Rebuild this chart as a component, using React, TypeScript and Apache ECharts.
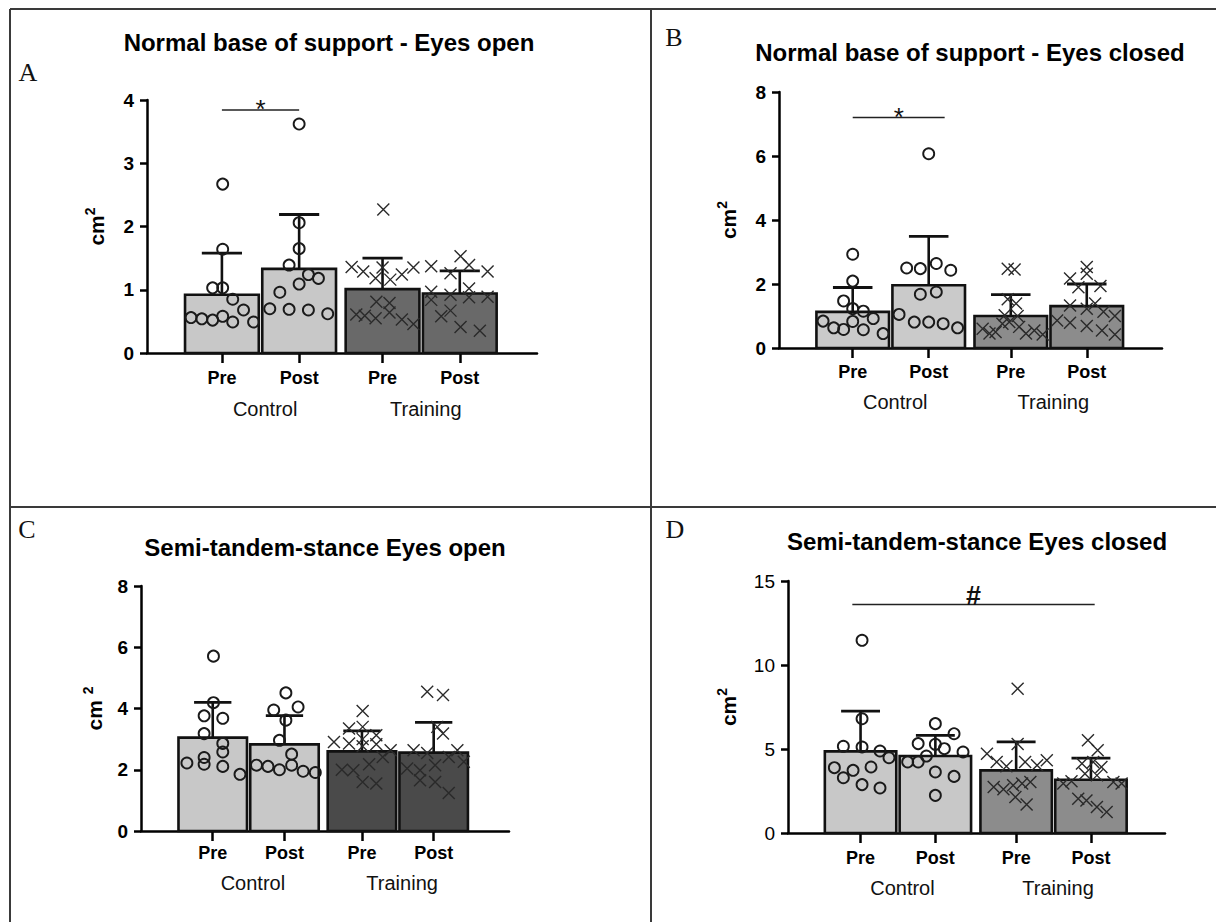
import React, { useEffect, useRef } from "react";
import * as echarts from "echarts";

// ---------- shared categories ----------
const timeLabels = ["Pre", "Post", "Pre", "Post"];
const groupLabels = ["Control", "Training"];
const catPos = [0, 1, 2.08, 3.08];
const groupPos = [0.56, 2.64];

// ---------- Panel A : Normal base of support - Eyes open ----------
const titleA = "Normal base of support - Eyes open";
const meanA = [0.92, 1.33, 1.01, 0.94];
const sdA = [0.66, 0.86, 0.49, 0.36];
const ctrlPreA = [[0.01, 2.67], [0.01, 1.64], [-0.12, 1.03], [0.01, 1.03], [0.14, 0.85], [0.28, 0.68], [-0.4, 0.56], [-0.26, 0.54], [-0.12, 0.52], [0.01, 0.58], [0.14, 0.49], [0.41, 0.49]];
const ctrlPostA = [[0, 3.62], [0, 2.06], [0, 1.65], [-0.13, 1.39], [0.12, 1.24], [0.25, 1.18], [0, 1.09], [-0.25, 0.96], [-0.38, 0.7], [-0.13, 0.69], [0.12, 0.68], [0.37, 0.62]];
const trPreA = [[0.01, 2.27], [-0.4, 1.36], [-0.25, 1.29], [-0.09, 1.18], [0, 1.35], [0.1, 1.16], [0.25, 1.24], [0.4, 1.35], [-0.08, 0.81], [0.09, 0.79], [0.09, 0.64], [-0.34, 0.61], [-0.23, 0.59], [-0.09, 0.55], [0.25, 0.53], [0.4, 0.46]];
const trPostA = [[-0.37, 1.37], [-0.12, 1.26], [0.01, 1.53], [0.12, 1.39], [0.36, 1.29], [-0.37, 0.97], [-0.12, 0.92], [0.12, 1.02], [-0.37, 0.84], [0.12, 0.88], [0.36, 0.89], [-0.24, 0.58], [-0.12, 0.67], [0.01, 0.41], [0.26, 0.35]];
const sigA = [[0, 1, 3.84]];

// ---------- Panel B : Normal base of support - Eyes closed ----------
const titleB = "Normal base of support - Eyes closed";
const meanB = [1.13, 1.96, 1.0, 1.31];
const sdB = [0.76, 1.53, 0.67, 0.69];
const ctrlPreB = [[0, 2.93], [0, 2.09], [-0.12, 1.47], [0, 1.23], [0.14, 1.15], [-0.39, 0.84], [0, 0.83], [0.27, 0.92], [-0.25, 0.63], [-0.12, 0.58], [0.14, 0.57], [0.4, 0.45]];
const ctrlPostB = [[0, 6.07], [-0.29, 2.5], [-0.11, 2.48], [0.1, 2.64], [0.29, 2.43], [-0.11, 1.68], [0.1, 1.75], [-0.39, 1.05], [-0.19, 0.81], [0, 0.81], [0.19, 0.76], [0.38, 0.63]];
const trPreB = [[-0.04, 2.48], [0.05, 2.45], [-0.04, 1.52], [0.07, 1.39], [-0.08, 1.02], [0.09, 1.0], [-0.02, 0.81], [-0.11, 0.76], [-0.37, 0.6], [-0.28, 0.45], [-0.2, 0.5], [0.11, 0.66], [0.2, 0.45], [0.31, 0.55], [0.42, 0.42]];
const trPostB = [[0, 2.53], [-0.22, 2.17], [0, 2.32], [-0.11, 1.9], [0.18, 1.94], [-0.22, 1.33], [0.11, 1.39], [0, 1.23], [0.22, 1.13], [0.37, 1.0], [-0.39, 0.86], [-0.22, 0.79], [0, 0.69], [0.2, 0.55], [0.37, 0.42]];
const sigB = [[0, 1.21, 7.2]];

// ---------- Panel C : Semi-tandem-stance Eyes open ----------
const titleC = "Semi-tandem-stance Eyes open";
const meanC = [3.05, 2.83, 2.6, 2.56];
const sdC = [1.15, 0.94, 0.67, 0.99];
const ctrlPreC = [[0.01, 5.71], [0.01, 4.19], [-0.12, 3.76], [0.14, 3.68], [-0.12, 3.18], [0.14, 2.86], [0.14, 2.58], [-0.12, 2.4], [-0.36, 2.22], [-0.12, 2.18], [0.14, 2.11], [0.38, 1.85]];
const ctrlPostC = [[0.02, 4.51], [-0.15, 3.95], [0.19, 4.05], [0.02, 3.62], [-0.07, 2.96], [0.1, 2.51], [-0.39, 2.15], [-0.23, 2.11], [-0.07, 2.0], [0.1, 2.15], [0.26, 1.95], [0.43, 1.91]];
const trPreC = [[0.01, 3.92], [-0.39, 2.91], [-0.18, 2.86], [-0.18, 3.35], [0.01, 3.4], [0.01, 3.0], [0.2, 3.13], [0.2, 2.83], [0.4, 2.64], [0.29, 2.42], [0.01, 2.77], [-0.28, 2.0], [-0.12, 1.98], [0.1, 2.18], [0.01, 1.6], [0.2, 1.55]];
const trPostC = [[-0.09, 4.55], [0.13, 4.44], [0.05, 3.4], [0.13, 3.18], [-0.28, 2.64], [-0.09, 2.55], [0.33, 2.64], [0.21, 2.42], [0.42, 2.26], [-0.37, 2.04], [-0.19, 1.98], [0.02, 2.15], [-0.19, 1.66], [0.02, 1.6], [0.21, 1.24]];
const sigC: number[][] = [];

// ---------- Panel D : Semi-tandem-stance Eyes closed ----------
const titleD = "Semi-tandem-stance Eyes closed";
const meanD = [4.86, 4.58, 3.73, 3.17];
const sdD = [2.4, 1.23, 1.69, 1.29];
const ctrlPreD = [[0.02, 11.47], [0.02, 6.8], [-0.23, 5.16], [0.02, 5.12], [0.26, 4.88], [0.38, 4.48], [-0.35, 3.89], [-0.1, 3.73], [0.14, 3.93], [-0.23, 3.29], [0.02, 2.88], [0.26, 2.68]];
const ctrlPostD = [[0, 6.51], [0.25, 5.91], [-0.23, 5.32], [0, 5.28], [0.12, 5.02], [-0.12, 4.58], [0.37, 4.82], [-0.37, 4.23], [-0.23, 4.23], [0, 3.63], [0.25, 3.37], [0, 2.24]];
const trPreD = [[0.02, 8.59], [-0.39, 4.72], [-0.26, 4.23], [-0.13, 3.97], [0.02, 5.3], [0.12, 4.23], [0.28, 4.03], [0.41, 4.33], [-0.3, 2.74], [-0.17, 2.6], [-0.04, 2.84], [0.19, 3.04], [0.08, 2.94], [-0.01, 2.14], [0.14, 1.69]];
const trPostD = [[-0.04, 5.52], [0.09, 4.92], [-0.12, 4.13], [0.03, 4.23], [0.14, 3.93], [-0.08, 3.53], [0.08, 3.43], [-0.37, 2.94], [-0.26, 3.08], [0.3, 3.04], [0.41, 2.94], [-0.17, 2.04], [-0.06, 1.94], [0.08, 1.55], [0.21, 1.25]];
const sigD = [[-0.11, 3.13, 13.6]];

// ---------- y axis ticks ----------
const yMaxA = 4, yStepA = 1;
const yMaxB = 8, yStepB = 2;
const yMaxC = 8, yStepC = 2;
const yMaxD = 15, yStepD = 5;

const FONT = '"Liberation Sans", Arial, Helvetica, sans-serif';
const SERIF = '"Liberation Serif", "Times New Roman", Times, serif';

type Panel = {
  letter: string;
  title: string;
  mean: number[];
  sd: number[];
  pts: number[][][];
  sig: number[][];
  sigText: string;
  yMax: number;
  yStep: number;
  ctrlColor: string;
  trColor: string;
  grid: { left: number; top: number; width: number; height: number };
  xMin: number;
  xMax: number;
  titleX: number;
  titleY: number;
  letterX: number;
  letterY: number;
  labelMargin: number;
  groupMargin: number;
  nameGap: number;
  yName: string;
  yLabelWeight: string;
};

const panels: Panel[] = [
  {
    letter: "A", title: titleA, mean: meanA, sd: sdA,
    pts: [ctrlPreA, ctrlPostA, trPreA, trPostA], sig: sigA, sigText: "*",
    yMax: yMaxA, yStep: yStepA, ctrlColor: "#c8c8c8", trColor: "#696969",
    grid: { left: 147, top: 100, width: 390, height: 253 }, xMin: -0.97, xMax: 4.08,
    titleX: 329, titleY: 42, letterX: 28, letterY: 72, labelMargin: 16, groupMargin: 46,
    nameGap: 38, yName: "{a|cm}{b|2}", yLabelWeight: "bold",
  },
  {
    letter: "B", title: titleB, mean: meanB, sd: sdB,
    pts: [ctrlPreB, ctrlPostB, trPreB, trPostB], sig: sigB, sigText: "*",
    yMax: yMaxB, yStep: yStepB, ctrlColor: "#cacaca", trColor: "#8c8c8c",
    grid: { left: 779, top: 92, width: 383, height: 256 }, xMin: -0.97, xMax: 4.07,
    titleX: 970, titleY: 52, letterX: 674, letterY: 37, labelMargin: 15, groupMargin: 44,
    nameGap: 38, yName: "{a|cm}{b|2}", yLabelWeight: "bold",
  },
  {
    letter: "C", title: titleC, mean: meanC, sd: sdC,
    pts: [ctrlPreC, ctrlPostC, trPreC, trPostC], sig: sigC, sigText: "",
    yMax: yMaxC, yStep: yStepC, ctrlColor: "#c8c8c8", trColor: "#4a4a4a",
    grid: { left: 141, top: 586, width: 368, height: 245 }, xMin: -1.0, xMax: 4.13,
    titleX: 325, titleY: 547, letterX: 27, letterY: 529, labelMargin: 13, groupMargin: 42,
    nameGap: 34, yName: "{a|cm }{b|2}", yLabelWeight: "bold",
  },
  {
    letter: "D", title: titleD, mean: meanD, sd: sdD,
    pts: [ctrlPreD, ctrlPostD, trPreD, trPostD], sig: sigD, sigText: "#",
    yMax: yMaxD, yStep: yStepD, ctrlColor: "#c8c8c8", trColor: "#8c8c8c",
    grid: { left: 788, top: 581, width: 377, height: 252 }, xMin: -0.97, xMax: 4.07,
    titleX: 977, titleY: 541, letterX: 675, letterY: 529, labelMargin: 16, groupMargin: 45,
    nameGap: 47, yName: "{a|cm}{b|2}", yLabelWeight: "normal",
  },
];

function nearestIndex(arr: number[], v: number) {
  let best = -1, d = 1e9;
  arr.forEach((a, i) => {
    const dd = Math.abs(a - v);
    if (dd < d) { d = dd; best = i; }
  });
  return d < 0.05 ? best : -1;
}

function buildOption() {
  const grid: any[] = [];
  const xAxis: any[] = [];
  const yAxis: any[] = [];
  const series: any[] = [];
  const graphic: any[] = [];

  panels.forEach((p, k) => {
    grid.push({ ...p.grid, containLabel: false });
    xAxis.push({
      type: "value", gridIndex: k, min: p.xMin, max: p.xMax, position: "bottom",
      axisLine: { show: true, onZero: false, lineStyle: { color: "#000", width: 2.5 } },
      axisTick: { show: true, customValues: catPos, length: 10, lineStyle: { color: "#000", width: 2.5 } },
      axisLabel: {
        show: true, customValues: catPos, margin: p.labelMargin,
        formatter: (v: number) => { const i = nearestIndex(catPos, v); return i >= 0 ? timeLabels[i] : ""; },
        fontSize: 18, fontWeight: "bold", color: "#000", fontFamily: FONT,
      },
      splitLine: { show: false },
    });
    xAxis.push({
      type: "value", gridIndex: k, min: p.xMin, max: p.xMax, position: "bottom",
      axisLine: { show: false }, axisTick: { show: false }, splitLine: { show: false },
      axisLabel: {
        show: true, customValues: groupPos, margin: p.groupMargin,
        formatter: (v: number) => { const i = nearestIndex(groupPos, v); return i >= 0 ? groupLabels[i] : ""; },
        fontSize: 20, color: "#111", fontFamily: FONT,
      },
    });
    yAxis.push({
      type: "value", gridIndex: k, min: 0, max: p.yMax, interval: p.yStep,
      axisLine: { show: true, onZero: false, lineStyle: { color: "#000", width: 2.5 } },
      axisTick: { show: true, length: 7, lineStyle: { color: "#000", width: 2.5 } },
      axisLabel: { fontSize: 19, fontWeight: p.yLabelWeight, color: "#000", fontFamily: FONT, margin: 13 },
      splitLine: { show: false },
      name: p.yName, nameLocation: "middle", nameRotate: 90, nameGap: p.nameGap,
      nameTextStyle: {
        rich: {
          a: { fontSize: 21, fontWeight: "bold", color: "#000", fontFamily: FONT, lineHeight: 26 },
          b: { fontSize: 14, fontWeight: "bold", color: "#000", fontFamily: FONT, verticalAlign: "top", lineHeight: 26 },
        },
      },
    });

    const ctrlColor = p.ctrlColor, trColor = p.trColor;
    // bars + error bars
    series.push({
      type: "custom", xAxisIndex: 2 * k, yAxisIndex: k, z: 2,
      data: p.mean.map((m, i) => [catPos[i], m, p.sd[i]]),
      encode: { x: 0, y: 1 },
      renderItem: (params: any, api: any) => {
        const x = api.value(0), m = api.value(1), sd = api.value(2);
        const unit = api.size([1, 0])[0];
        const p0 = api.coord([x, 0]);
        const pm = api.coord([x, m]);
        const pt = api.coord([x, m + sd]);
        const bw = unit * 0.955;
        const cw = unit * 0.52;
        const fill = params.dataIndex < 2 ? ctrlColor : trColor;
        return {
          type: "group",
          children: [
            { type: "rect", shape: { x: p0[0] - bw / 2, y: pm[1], width: bw, height: p0[1] - pm[1] }, style: { fill, stroke: "#111", lineWidth: 2.6 } },
            { type: "line", shape: { x1: pm[0], y1: pm[1], x2: pt[0], y2: pt[1] }, style: { stroke: "#111", lineWidth: 2.6 } },
            { type: "line", shape: { x1: pt[0] - cw / 2, y1: pt[1], x2: pt[0] + cw / 2, y2: pt[1] }, style: { stroke: "#111", lineWidth: 2.8 } },
          ],
        };
      },
    });
    // individual points: control circles
    series.push({
      type: "scatter", xAxisIndex: 2 * k, yAxisIndex: k, z: 3,
      symbol: "circle", symbolSize: 11,
      itemStyle: { color: "rgba(0,0,0,0)", borderColor: "#1a1a1a", borderWidth: 1.9, opacity: 1 },
      data: [0, 1].flatMap((g) => p.pts[g].map((d) => [catPos[g] + d[0], d[1]])),
    });
    // training crosses
    series.push({
      type: "scatter", xAxisIndex: 2 * k, yAxisIndex: k, z: 3,
      symbol: "path://M0,0L10,10M10,0L0,10", symbolSize: 12,
      itemStyle: { color: "rgba(0,0,0,0)", borderColor: "#2a2a2a", borderWidth: 1.4, opacity: 1 },
      data: [2, 3].flatMap((g) => p.pts[g].map((d) => [catPos[g] + d[0], d[1]])),
    });
    // significance
    if (p.sig.length) {
      const txt = p.sigText;
      series.push({
        type: "custom", xAxisIndex: 2 * k, yAxisIndex: k, z: 4,
        data: p.sig,
        encode: { x: [0, 1], y: 2 },
        renderItem: (params: any, api: any) => {
          const a = api.coord([api.value(0), api.value(2)]);
          const b = api.coord([api.value(1), api.value(2)]);
          const big = txt === "#";
          return {
            type: "group",
            children: [
              { type: "line", shape: { x1: a[0], y1: a[1], x2: b[0], y2: b[1] }, style: { stroke: "#222", lineWidth: 1.5 } },
              {
                type: "text", x: (a[0] + b[0]) / 2, y: a[1] - (big ? 9 : 1),
                style: { text: txt, fontSize: big ? 27 : 26, fontWeight: big ? "bold" : "normal", fontFamily: FONT, fill: "#111", textAlign: "center", textVerticalAlign: "middle", align: "center", verticalAlign: "middle" },
              },
            ],
          };
        },
      });
    }

    graphic.push({
      type: "text", x: p.titleX, y: p.titleY,
      style: { text: p.title, fontSize: 24, fontWeight: "bold", fontFamily: FONT, fill: "#000", textAlign: "center", textVerticalAlign: "middle", align: "center", verticalAlign: "middle" },
    });
    graphic.push({
      type: "text", x: p.letterX, y: p.letterY,
      style: { text: p.letter, fontSize: 26, fontFamily: SERIF, fill: "#111", textAlign: "center", textVerticalAlign: "middle", align: "center", verticalAlign: "middle" },
    });
  });

  const border = { stroke: "#3a3a3a", lineWidth: 2 };
  graphic.push({ type: "line", shape: { x1: 10, y1: 9, x2: 1216, y2: 9 }, style: border });
  graphic.push({ type: "line", shape: { x1: 10, y1: 9, x2: 10, y2: 922 }, style: border });
  graphic.push({ type: "line", shape: { x1: 651, y1: 9, x2: 651, y2: 922 }, style: border });
  graphic.push({ type: "line", shape: { x1: 10, y1: 507, x2: 1216, y2: 507 }, style: border });

  return {
    animation: false,
    backgroundColor: "#ffffff",
    grid, xAxis, yAxis, series, graphic,
  };
}

export default function App() {
  const ref = useRef<HTMLDivElement | null>(null);
  useEffect(() => {
    if (!ref.current) return;
    const chart = echarts.init(ref.current, undefined, { renderer: "svg" });
    chart.setOption(buildOption() as any);
    return () => chart.dispose();
  }, []);
  return (
    <div
      ref={ref}
      style={{ position: "absolute", left: 0, top: 0, width: 1216, height: 922, background: "#fff" }}
    />
  );
}
